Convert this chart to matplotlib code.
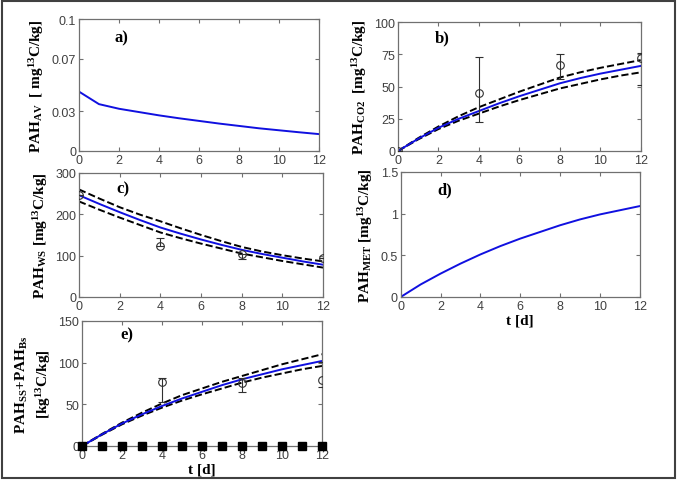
import matplotlib
matplotlib.use('Agg')
import matplotlib.pyplot as plt
from matplotlib.patches import Rectangle

# time axis (days)
t = [0, 1, 2, 3, 4, 5, 6, 7, 8, 9, 10, 11, 12]

# a) PAH_AV
av_model = [0.045, 0.0355, 0.032, 0.0295, 0.027, 0.0248, 0.0228, 0.0208, 0.019, 0.0172, 0.0157, 0.0142, 0.0128]

# b) PAH_CO2
co2_model = [0, 9.5, 18, 25, 31, 37, 42.5, 47.5, 52.5, 56.5, 60, 63, 66]
co2_upper = [0, 10, 19, 27, 34, 40, 46, 51.5, 57, 61, 64.5, 67.5, 70.5]
co2_lower = [0, 9, 17, 23.5, 29, 34.5, 39.5, 44, 48.5, 52, 55.5, 58.5, 61]
co2_t = [0, 4, 8, 12]
co2_obs = [0, 45, 66.5, 72.5]
co2_err_lo = [0, 22.5, 11, 21]
co2_err_hi = [0, 28, 9, 3.5]

# c) PAH_WS
ws_model = [246, 225, 205, 186, 168, 153, 139, 126, 114, 104, 95, 86, 78]
ws_upper = [260, 238, 217, 199, 183, 166, 150, 135, 121, 110, 101, 93, 86]
ws_lower = [231, 211, 192, 174, 156, 142, 129, 117, 105, 96, 87, 79, 71]
ws_t = [0, 4, 8, 12]
ws_obs = [246, 123, 103, 95]
ws_err_lo = [0, 0, 12, 0]
ws_err_hi = [0, 20, 0, 0]

# d) PAH_MET
met_model = [0, 0.15, 0.28, 0.40, 0.51, 0.61, 0.70, 0.78, 0.86, 0.93, 0.99, 1.04, 1.09]

# e) PAH_SS + PAH_BS
s_model = [0, 14, 27, 38, 48, 57, 65, 73, 80, 86, 92, 97, 102]
s_upper = [0, 14.5, 28, 40, 51, 61, 69, 77, 84, 91, 98, 104, 110]
s_lower = [0, 13.5, 26, 36.5, 46, 54.5, 62, 69, 76, 82, 87, 92, 96]
s_t = [4, 8, 12]
s_obs = [77, 75, 79]
s_err_lo = [24, 10, 8]
s_err_hi = [4, 6, 22]
s_zero = [0] * 13

plt.rcParams['mathtext.fontset'] = 'custom'
plt.rcParams['mathtext.rm'] = 'Liberation Serif:bold'
plt.rcParams['mathtext.bf'] = 'Liberation Serif:bold'
plt.rcParams['mathtext.it'] = 'Liberation Serif:bold'

fig = plt.figure(figsize=(6.78, 4.81), dpi=100)
fig.patches.append(Rectangle((0.003, 0.004), 0.992, 0.992, transform=fig.transFigure,
                             fill=False, edgecolor='#404040', linewidth=1.5))

blue = '#1010e0'
lab_font = dict(family='Liberation Serif', fontweight='bold', fontsize=11)
tag_font = dict(family='Liberation Serif', fontweight='bold', fontsize=12)


def style(ax, ylim, yticks, ytl=None):
    ax.set_xlim(0, 12)
    ax.set_xticks([0, 2, 4, 6, 8, 10, 12])
    ax.set_ylim(*ylim)
    ax.set_yticks(yticks)
    if ytl is not None:
        ax.set_yticklabels(ytl)
    ax.tick_params(direction='in', top=True, right=True, length=3, width=0.8,
                   color='#707070', labelsize=9, labelcolor='#404040', pad=2)
    for lab in ax.get_xticklabels() + ax.get_yticklabels():
        lab.set_family('Liberation Sans')
    for s in ax.spines.values():
        s.set_color('#707070')
        s.set_linewidth(0.9)


def obs(ax, x, y, lo, hi):
    ax.errorbar(x, y, yerr=[lo, hi], fmt='o', mfc='none', mec='#303030', ms=5.5,
                mew=0.8, ecolor='#303030', elinewidth=0.8, capsize=3, zorder=4)


# a)
ax = fig.add_axes([0.1165, 0.684, 0.354, 0.2744])
ax.plot(t, av_model, color=blue, lw=1.4)
style(ax, (0, 0.1), [0, 0.03, 0.07, 0.1], ['0', '0.03', '0.07', '0.1'])
ax.set_ylabel(r'PAH$_{\rm AV}$  [ mg$^{\rm 13}$C/kg]', **lab_font)
ax.text(0.15, 0.83, 'a)', transform=ax.transAxes, **tag_font)

# b)
ax = fig.add_axes([0.587, 0.684, 0.358, 0.268])
ax.plot(t, co2_upper, 'k--', lw=1.4)
ax.plot(t, co2_lower, 'k--', lw=1.4)
ax.plot(t, co2_model, color=blue, lw=1.4)
obs(ax, co2_t, co2_obs, co2_err_lo, co2_err_hi)
style(ax, (0, 100), [0, 25, 50, 75, 100])
ax.set_ylabel(r'PAH$_{\rm CO2}$  [mg$^{\rm 13}$C/kg]', **lab_font)
ax.text(0.15, 0.85, 'b)', transform=ax.transAxes, **tag_font)

# c)
ax = fig.add_axes([0.1165, 0.3805, 0.36, 0.258])
ax.plot(t, ws_upper, 'k--', lw=1.4)
ax.plot(t, ws_lower, 'k--', lw=1.4)
ax.plot(t, ws_model, color=blue, lw=1.4)
obs(ax, ws_t, ws_obs, ws_err_lo, ws_err_hi)
style(ax, (0, 300), [0, 100, 200, 300])
ax.set_ylabel(r'PAH$_{\rm WS}$ [mg$^{\rm 13}$C/kg]', **lab_font)
ax.text(0.155, 0.84, 'c)', transform=ax.transAxes, **tag_font)

# d)
ax = fig.add_axes([0.591, 0.3805, 0.3525, 0.26])
ax.plot(t, met_model, color=blue, lw=1.4)
style(ax, (0, 1.5), [0, 0.5, 1, 1.5], ['0', '0.5', '1', '1.5'])
ax.set_ylabel(r'PAH$_{\rm MET}$ [mg$^{\rm 13}$C/kg]', **lab_font)
ax.set_xlabel('t [d]', labelpad=1, **lab_font)
ax.text(0.155, 0.83, 'd)', transform=ax.transAxes, **tag_font)

# e)
ax = fig.add_axes([0.121, 0.0707, 0.354, 0.26])
ax.plot(t, s_upper, 'k--', lw=1.4)
ax.plot(t, s_lower, 'k--', lw=1.4)
ax.plot(t, s_model, color=blue, lw=1.4)
obs(ax, s_t, s_obs, s_err_lo, s_err_hi)
ax.plot(t, s_zero, 's', color='black', ms=5.5, clip_on=False, zorder=5)
style(ax, (0, 150), [0, 50, 100, 150])
ax.set_ylabel('PAH$_{\\rm SS}$+PAH$_{\\rm Bs}$\n[kg$^{\\rm 13}$C/kg]', linespacing=1.3,
              **lab_font)
ax.set_xlabel('t [d]', labelpad=1, **lab_font)
ax.text(0.16, 0.86, 'e)', transform=ax.transAxes, **tag_font)

fig.savefig('out.png', dpi=100)
